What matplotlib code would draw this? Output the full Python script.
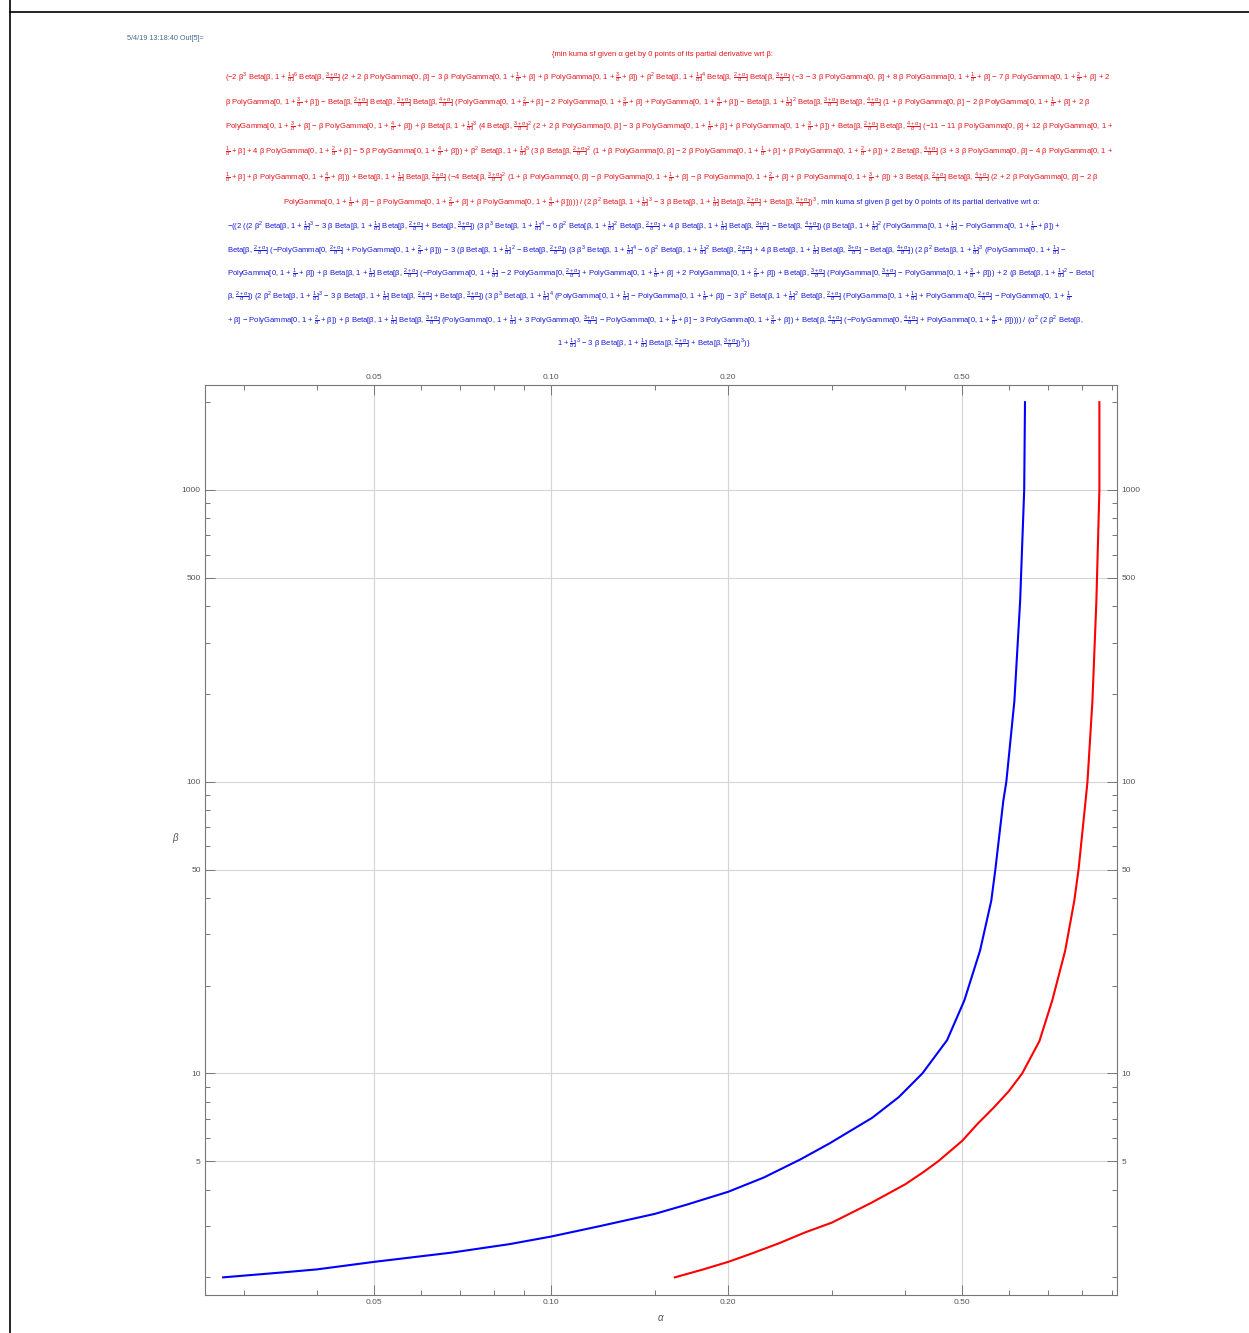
import re
import matplotlib
matplotlib.use("Agg")
import matplotlib.pyplot as plt
from matplotlib.lines import Line2D
from matplotlib.ticker import FixedLocator, NullFormatter, FixedFormatter

plt.rcParams['font.family'] = ['Liberation Sans', 'DejaVu Sans']
plt.rcParams['mathtext.fontset'] = 'custom'
plt.rcParams['mathtext.rm'] = 'Liberation Sans'
plt.rcParams['mathtext.it'] = 'Liberation Sans:italic'
plt.rcParams['mathtext.bf'] = 'Liberation Sans:bold'

# curves (alpha, beta)
blue_alpha = [0.0277, 0.035, 0.04, 0.05, 0.0676, 0.085, 0.1, 0.1213, 0.15, 0.17, 0.2, 0.23,
              0.2656, 0.297, 0.3515, 0.39, 0.4276, 0.471,
              0.504, 0.536, 0.560, 0.569, 0.587, 0.594, 0.613, 0.627, 0.637, 0.639]
blue_beta = [2.0, 2.08, 2.13, 2.26, 2.43, 2.6, 2.76, 3.0, 3.3, 3.55, 3.93, 4.4,
             5.08, 5.75, 7.05, 8.3, 10.0, 13.0,
             17.8, 26.4, 39.1, 50, 86, 100, 189, 417, 1000, 2000]
red_alpha = [0.1623, 0.18, 0.2, 0.22, 0.2443, 0.27, 0.3, 0.35, 0.4, 0.43, 0.455, 0.5, 0.53,
             0.5655, 0.6, 0.632, 0.676,
             0.711, 0.748, 0.775, 0.788, 0.810, 0.816, 0.832, 0.845, 0.855, 0.855]
red_beta = [2.0, 2.12, 2.26, 2.42, 2.62, 2.85, 3.08, 3.6, 4.17, 4.6, 5.0, 5.88, 6.7,
            7.64, 8.7, 10, 12.9,
            17.8, 26.4, 39.1, 50, 86, 100, 189, 417, 1000, 2000]

x_major = [0.05, 0.1, 0.2, 0.5]
x_labels = ["0.05", "0.10", "0.20", "0.50"]
x_minor = [0.03, 0.04, 0.06, 0.07, 0.08, 0.09, 0.15, 0.3, 0.4, 0.6, 0.7, 0.8, 0.9]
y_major = [5, 10, 50, 100, 500, 1000]
y_labels = ["5", "10", "50", "100", "500", "1000"]
y_minor = [2, 3, 4, 6, 7, 8, 9, 20, 30, 40, 60, 70, 80, 90,
           200, 300, 400, 600, 700, 800, 900, 2000]

stamp = "5/4/19 13:18:40 Out[5]="
title_red = "{min kuma sf given α get by 0 points of its partial derivative wrt β:"
red_lines = [
    "(−2 β^3 Beta[β, 1 + ⟨1⟩]^6 Beta[β, ⟨3+⟩] (2 + 2 β PolyGamma[0, β] − 3 β PolyGamma[0, 1 + ⟨1⟩ + β] + β PolyGamma[0, 1 + ⟨3⟩ + β]) + β^2 Beta[β, 1 + ⟨1⟩]^4 Beta[β, ⟨2+⟩] Beta[β, ⟨3+⟩] (−3 − 3 β PolyGamma[0, β] + 8 β PolyGamma[0, 1 + ⟨1⟩ + β] − 7 β PolyGamma[0, 1 + ⟨2⟩ + β] + 2",
    "β PolyGamma[0, 1 + ⟨3⟩ + β]) − Beta[β, ⟨2+⟩] Beta[β, ⟨3+⟩] Beta[β, ⟨4+⟩] (PolyGamma[0, 1 + ⟨2⟩ + β] − 2 PolyGamma[0, 1 + ⟨3⟩ + β] + PolyGamma[0, 1 + ⟨4⟩ + β]) − Beta[β, 1 + ⟨1⟩]^2 Beta[β, ⟨3+⟩] Beta[β, ⟨4+⟩] (1 + β PolyGamma[0, β] − 2 β PolyGamma[0, 1 + ⟨1⟩ + β] + 2 β",
    "PolyGamma[0, 1 + ⟨3⟩ + β] − β PolyGamma[0, 1 + ⟨4⟩ + β]) + β Beta[β, 1 + ⟨1⟩]^3 (4 Beta[β, ⟨3+⟩]^2 (2 + 2 β PolyGamma[0, β] − 3 β PolyGamma[0, 1 + ⟨1⟩ + β] + β PolyGamma[0, 1 + ⟨3⟩ + β]) + Beta[β, ⟨2+⟩] Beta[β, ⟨4+⟩] (−11 − 11 β PolyGamma[0, β] + 12 β PolyGamma[0, 1 +",
    "⟨1⟩ + β] + 4 β PolyGamma[0, 1 + ⟨2⟩ + β] − 5 β PolyGamma[0, 1 + ⟨4⟩ + β])) + β^2 Beta[β, 1 + ⟨1⟩]^5 (3 β Beta[β, ⟨2+⟩]^2 (1 + β PolyGamma[0, β] − 2 β PolyGamma[0, 1 + ⟨1⟩ + β] + β PolyGamma[0, 1 + ⟨2⟩ + β]) + 2 Beta[β, ⟨4+⟩] (3 + 3 β PolyGamma[0, β] − 4 β PolyGamma[0, 1 +",
    "⟨1⟩ + β] + β PolyGamma[0, 1 + ⟨4⟩ + β])) + Beta[β, 1 + ⟨1⟩] Beta[β, ⟨2+⟩] (−4 Beta[β, ⟨3+⟩]^2 (1 + β PolyGamma[0, β] − β PolyGamma[0, 1 + ⟨1⟩ + β] − β PolyGamma[0, 1 + ⟨2⟩ + β] + β PolyGamma[0, 1 + ⟨3⟩ + β]) + 3 Beta[β, ⟨2+⟩] Beta[β, ⟨4+⟩] (2 + 2 β PolyGamma[0, β] − 2 β",
    "PolyGamma[0, 1 + ⟨1⟩ + β] − β PolyGamma[0, 1 + ⟨2⟩ + β] + β PolyGamma[0, 1 + ⟨4⟩ + β])))) / (2 β^2 Beta[β, 1 + ⟨1⟩]^3 − 3 β Beta[β, 1 + ⟨1⟩] Beta[β, ⟨2+⟩] + Beta[β, ⟨3+⟩])^3",
]
blue_title = ", min kuma sf given β get by 0 points of its partial derivative wrt α:"
blue_lines = [
    "−((2 ((2 β^2 Beta[β, 1 + ⟨1⟩]^3 − 3 β Beta[β, 1 + ⟨1⟩] Beta[β, ⟨2+⟩] + Beta[β, ⟨3+⟩]) (3 β^3 Beta[β, 1 + ⟨1⟩]^4 − 6 β^2 Beta[β, 1 + ⟨1⟩]^2 Beta[β, ⟨2+⟩] + 4 β Beta[β, 1 + ⟨1⟩] Beta[β, ⟨3+⟩] − Beta[β, ⟨4+⟩]) (β Beta[β, 1 + ⟨1⟩]^2 (PolyGamma[0, 1 + ⟨1⟩] − PolyGamma[0, 1 + ⟨1⟩ + β]) +",
    "Beta[β, ⟨2+⟩] (−PolyGamma[0, ⟨2+⟩] + PolyGamma[0, 1 + ⟨2⟩ + β])) − 3 (β Beta[β, 1 + ⟨1⟩]^2 − Beta[β, ⟨2+⟩]) (3 β^3 Beta[β, 1 + ⟨1⟩]^4 − 6 β^2 Beta[β, 1 + ⟨1⟩]^2 Beta[β, ⟨2+⟩] + 4 β Beta[β, 1 + ⟨1⟩] Beta[β, ⟨3+⟩] − Beta[β, ⟨4+⟩]) (2 β^2 Beta[β, 1 + ⟨1⟩]^3 (PolyGamma[0, 1 + ⟨1⟩] −",
    "PolyGamma[0, 1 + ⟨1⟩ + β]) + β Beta[β, 1 + ⟨1⟩] Beta[β, ⟨2+⟩] (−PolyGamma[0, 1 + ⟨1⟩] − 2 PolyGamma[0, ⟨2+⟩] + PolyGamma[0, 1 + ⟨1⟩ + β] + 2 PolyGamma[0, 1 + ⟨2⟩ + β]) + Beta[β, ⟨3+⟩] (PolyGamma[0, ⟨3+⟩] − PolyGamma[0, 1 + ⟨3⟩ + β])) + 2 (β Beta[β, 1 + ⟨1⟩]^2 − Beta[",
    "β, ⟨2+⟩]) (2 β^2 Beta[β, 1 + ⟨1⟩]^3 − 3 β Beta[β, 1 + ⟨1⟩] Beta[β, ⟨2+⟩] + Beta[β, ⟨3+⟩]) (3 β^3 Beta[β, 1 + ⟨1⟩]^4 (PolyGamma[0, 1 + ⟨1⟩] − PolyGamma[0, 1 + ⟨1⟩ + β]) − 3 β^2 Beta[β, 1 + ⟨1⟩]^2 Beta[β, ⟨2+⟩] (PolyGamma[0, 1 + ⟨1⟩] + PolyGamma[0, ⟨2+⟩] − PolyGamma[0, 1 + ⟨1⟩",
    "+ β] − PolyGamma[0, 1 + ⟨2⟩ + β]) + β Beta[β, 1 + ⟨1⟩] Beta[β, ⟨3+⟩] (PolyGamma[0, 1 + ⟨1⟩] + 3 PolyGamma[0, ⟨3+⟩] − PolyGamma[0, 1 + ⟨1⟩ + β] − 3 PolyGamma[0, 1 + ⟨3⟩ + β]) + Beta[β, ⟨4+⟩] (−PolyGamma[0, ⟨4+⟩] + PolyGamma[0, 1 + ⟨4⟩ + β])))) / (α^2 (2 β^2 Beta[β,",
    "1 + ⟨1⟩]^3 − 3 β Beta[β, 1 + ⟨1⟩] Beta[β, ⟨2+⟩] + Beta[β, ⟨3+⟩])^3)}",
]


def mt(s):
    # turn the short fraction / power marks into mathtext
    s = re.sub(r'⟨(\d)(\+?)⟩',
               lambda m: r'$\frac{%s}{\alpha}$' % (m.group(1) + (r'+\alpha' if m.group(2) else '')), s)
    s = re.sub(r'\^(\d)', r'$^{\1}$', s)
    return s


W, H = 1249, 1333
fig = plt.figure(figsize=(W / 100, H / 100), dpi=100)

def fx(px):
    return px / W

def fy(py):
    return 1 - py / H

# notebook frame
fig.add_artist(Line2D([fx(10), 1], [fy(12), fy(12)], color='black', lw=1.2, transform=fig.transFigure))
fig.add_artist(Line2D([fx(10), fx(10)], [0, 1], color='black', lw=1.2, transform=fig.transFigure))

red_c = '#e5141c'
blue_c = '#1818d8'
fs = 5.5

fig.text(fx(127), fy(39), stamp, fontsize=5.2, color='#4a6a90', va='center', ha='left')
fig.text(fx(552), fy(54), title_red, fontsize=fs, color=red_c, va='center', ha='left')

red_y = [77, 102, 126, 151, 177, 202]
for i, line in enumerate(red_lines):
    x0 = 283 if i == len(red_lines) - 1 else 225
    t = fig.text(fx(x0), fy(red_y[i]), mt(line), fontsize=fs, color=red_c, va='center', ha='left')
fig.canvas.draw()
bb = t.get_window_extent()
fig.text(bb.x1 / W, fy(red_y[-1]), blue_title, fontsize=fs, color=blue_c, va='center', ha='left')

blue_y = [226, 250, 273, 296, 320, 343]
for i, line in enumerate(blue_lines):
    if i == len(blue_lines) - 1:
        fig.text(fx(654), fy(blue_y[i]), mt(line), fontsize=fs, color=blue_c, va='center', ha='center')
    else:
        fig.text(fx(227), fy(blue_y[i]), mt(line), fontsize=fs, color=blue_c, va='center', ha='left')

# plot
ax = fig.add_axes([fx(205), fy(1295), 912 / W, 910 / H])
ax.plot(blue_alpha, blue_beta, color='blue', lw=1.5)
ax.plot(red_alpha, red_beta, color='red', lw=1.5)
ax.set_xscale('log')
ax.set_yscale('log')
ax.set_xlim(0.0258, 0.916)
ax.set_ylim(1.74, 2290)

ax.xaxis.set_major_locator(FixedLocator(x_major))
ax.xaxis.set_major_formatter(FixedFormatter(x_labels))
ax.xaxis.set_minor_locator(FixedLocator(x_minor))
ax.xaxis.set_minor_formatter(NullFormatter())
ax.yaxis.set_major_locator(FixedLocator(y_major))
ax.yaxis.set_major_formatter(FixedFormatter(y_labels))
ax.yaxis.set_minor_locator(FixedLocator(y_minor))
ax.yaxis.set_minor_formatter(NullFormatter())

ax.tick_params(which='both', direction='in', top=True, right=True,
               labeltop=True, labelright=True, color='#777777',
               labelcolor='#555555', labelsize=6, width=0.7)
ax.tick_params(which='major', length=7, pad=3)
ax.tick_params(which='minor', length=3.5)
ax.grid(True, which='major', color='#d4d4d4', lw=0.8)
for s in ax.spines.values():
    s.set_color('#777777')
    s.set_linewidth(0.8)

fig.text(fx(660), fy(1318), "α", fontsize=7, color='#555555', style='italic', ha='center', va='center')
fig.text(fx(175), fy(838), "β", fontsize=7, color='#555555', style='italic', ha='center', va='center')

fig.savefig("out.png", dpi=100)
